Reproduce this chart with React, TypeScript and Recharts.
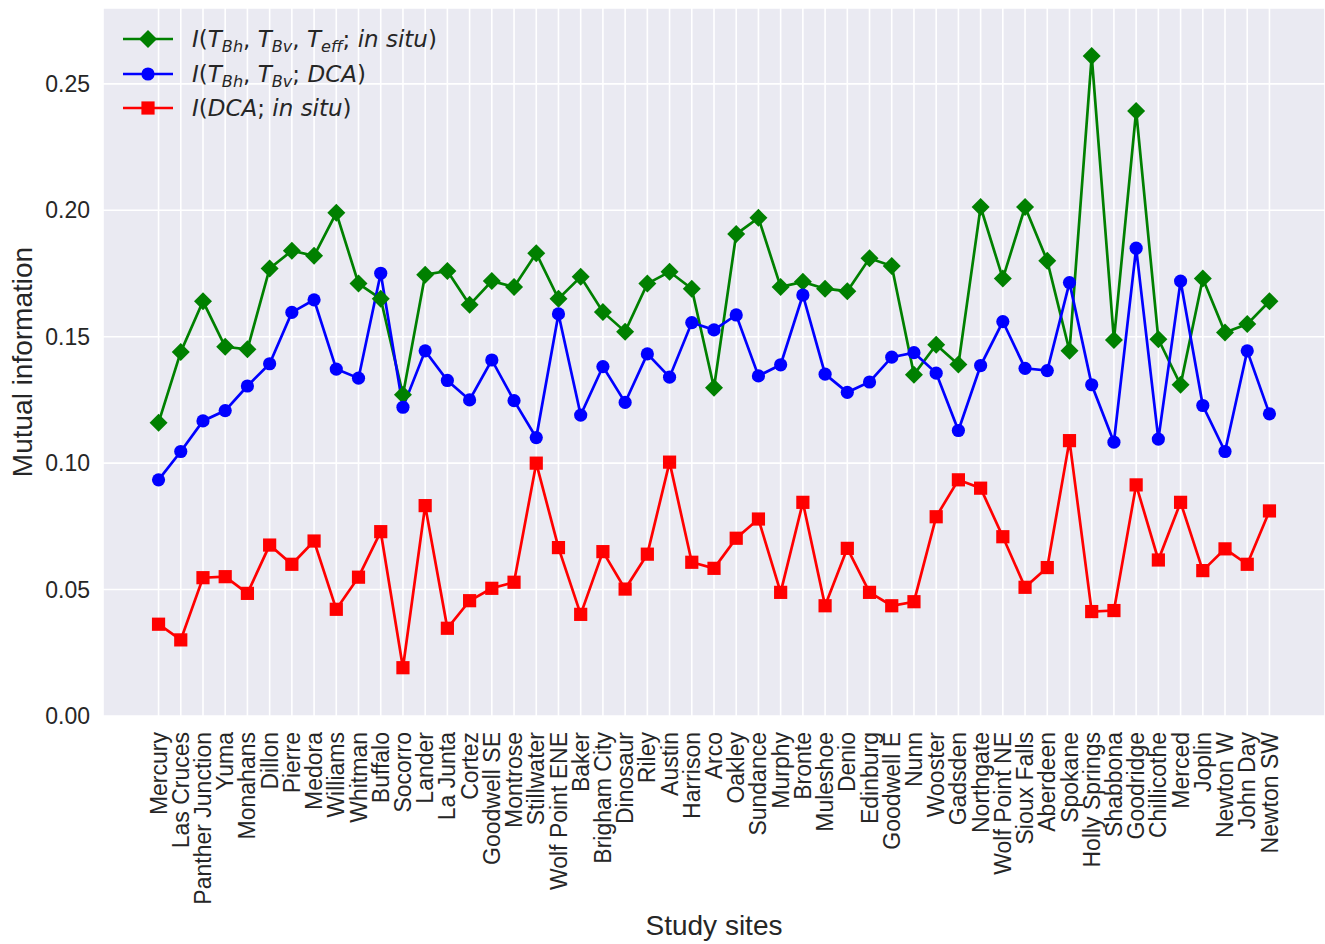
import React from "react";
import {
  LineChart,
  Line,
  XAxis,
  YAxis,
  CartesianGrid,
  Legend,
} from "recharts";

const sites = [
  "Mercury", "Las Cruces", "Panther Junction", "Yuma", "Monahans", "Dillon",
  "Pierre", "Medora", "Williams", "Whitman", "Buffalo", "Socorro", "Lander",
  "La Junta", "Cortez", "Goodwell SE", "Montrose", "Stillwater",
  "Wolf Point ENE", "Baker", "Brigham City", "Dinosaur", "Riley", "Austin",
  "Harrison", "Arco", "Oakley", "Sundance", "Murphy", "Bronte", "Muleshoe",
  "Denio", "Edinburg", "Goodwell E", "Nunn", "Wooster", "Gadsden",
  "Northgate", "Wolf Point NE", "Sioux Falls", "Aberdeen", "Spokane",
  "Holly Springs", "Shabbona", "Goodridge", "Chillicothe", "Merced", "Joplin",
  "Newton W", "John Day", "Newton SW",
];

// I(T_Bh, T_Bv, T_eff; in situ)
const greenVals = [
  0.116, 0.144, 0.164, 0.146, 0.145, 0.177, 0.184, 0.182, 0.199, 0.171,
  0.165, 0.127, 0.1745, 0.176, 0.1626, 0.172, 0.1697, 0.183, 0.165, 0.1737,
  0.1598, 0.152, 0.171, 0.1757, 0.169, 0.1298, 0.1906, 0.197, 0.1697, 0.1717,
  0.169, 0.168, 0.181, 0.178, 0.135, 0.1468, 0.139, 0.2013, 0.173, 0.2013,
  0.18, 0.1444, 0.261, 0.1487, 0.2393, 0.149, 0.131, 0.173, 0.1517, 0.155,
  0.164,
];

// I(T_Bh, T_Bv; DCA)
const blueVals = [
  0.0934, 0.1046, 0.1167, 0.1208, 0.1305, 0.1393, 0.1596, 0.1646, 0.1372,
  0.1336, 0.1751, 0.1221, 0.1444, 0.1327, 0.125, 0.1408, 0.1247, 0.1101,
  0.159, 0.119, 0.1382, 0.124, 0.1432, 0.134, 0.1556, 0.1527, 0.1586, 0.1345,
  0.1389, 0.1665, 0.1352, 0.128, 0.1321, 0.1419, 0.1437, 0.1356, 0.1129,
  0.1386, 0.156, 0.1375, 0.1366, 0.1714, 0.131, 0.1083, 0.185, 0.1095, 0.172,
  0.1228, 0.1046, 0.1444, 0.1195,
];

// I(DCA; in situ)
const redVals = [
  0.0363, 0.0301, 0.0547, 0.0551, 0.0485, 0.0676, 0.06, 0.0692, 0.0422,
  0.0549, 0.0729, 0.0191, 0.0832, 0.0347, 0.0456, 0.0505, 0.0529, 0.1,
  0.0666, 0.0402, 0.065, 0.0502, 0.064, 0.1004, 0.0608, 0.0584, 0.0703,
  0.0779, 0.0489, 0.0845, 0.0436, 0.0663, 0.0489, 0.0436, 0.0452, 0.0788,
  0.0934, 0.0901, 0.0709, 0.0509, 0.0587, 0.1089, 0.0413, 0.0417, 0.0914,
  0.0617, 0.0845, 0.0575, 0.0661, 0.06, 0.0811,
];

const yTicks = [0, 0.05, 0.1, 0.15, 0.2, 0.25];
const xTicks = sites.map((_, i) => i);

const data = sites.map((site, i) => ({
  idx: i,
  site,
  g: greenVals[i],
  b: blueVals[i],
  r: redVals[i],
}));

const GREEN = "#008000";
const BLUE = "#0000ff";
const RED = "#ff0000";
const TEXT = "#262626";
const FONT = "'Liberation Sans', Arial, sans-serif";
const MATHFONT = "'DejaVu Sans', sans-serif";
const LW = 2.7;

const Diamond = ({ cx, cy, s = 9, fill }: any) => (
  <polygon
    points={`${cx},${cy - s} ${cx + s},${cy} ${cx},${cy + s} ${cx - s},${cy}`}
    fill={fill}
  />
);

const renderDiamond = (p: any) => (
  <Diamond key={`g-${p.index}`} cx={p.cx} cy={p.cy} fill={GREEN} />
);
const renderCircle = (p: any) => (
  <circle key={`b-${p.index}`} cx={p.cx} cy={p.cy} r={6.6} fill={BLUE} />
);
const renderSquare = (p: any) => (
  <rect
    key={`r-${p.index}`}
    x={p.cx - 6.6}
    y={p.cy - 6.6}
    width={13.2}
    height={13.2}
    fill={RED}
  />
);

const XTick = (props: any) => {
  const { x, y, payload } = props;
  return (
    <text
      x={x}
      y={y}
      transform={`rotate(-90, ${x}, ${y})`}
      textAnchor="end"
      dy="0.35em"
      fontSize={23}
      fill={TEXT}
      fontFamily={FONT}
    >
      {sites[payload.value]}
    </text>
  );
};

const It = ({ children }: any) => (
  <span style={{ fontStyle: "italic" }}>{children}</span>
);
const Sub = ({ children }: any) => (
  <span
    style={{
      fontStyle: "italic",
      fontSize: "0.7em",
      position: "relative",
      top: "0.3em",
    }}
  >
    {children}
  </span>
);

const legendItems = [
  {
    color: GREEN,
    marker: "diamond",
    label: (
      <>
        <It>I</It>(<It>T</It>
        <Sub>Bh</Sub>, <It>T</It>
        <Sub>Bv</Sub>, <It>T</It>
        <Sub>eff</Sub>; <It>in situ</It>)
      </>
    ),
  },
  {
    color: BLUE,
    marker: "circle",
    label: (
      <>
        <It>I</It>(<It>T</It>
        <Sub>Bh</Sub>, <It>T</It>
        <Sub>Bv</Sub>; <It>DCA</It>)
      </>
    ),
  },
  {
    color: RED,
    marker: "square",
    label: (
      <>
        <It>I</It>(<It>DCA</It>; <It>in situ</It>)
      </>
    ),
  },
];

const LegendContent = () => (
  <div style={{ fontFamily: MATHFONT, color: TEXT, fontSize: 23 }}>
    {legendItems.map((it, i) => (
      <div
        key={i}
        style={{ display: "flex", alignItems: "center", height: 34.5 }}
      >
        <svg width={50} height={20} style={{ display: "block" }}>
          <line x1={0} y1={10} x2={50} y2={10} stroke={it.color} strokeWidth={LW} />
          {it.marker === "diamond" && <Diamond cx={25} cy={10} fill={it.color} />}
          {it.marker === "circle" && <circle cx={25} cy={10} r={6.6} fill={it.color} />}
          {it.marker === "square" && (
            <rect x={18.4} y={3.4} width={13.2} height={13.2} fill={it.color} />
          )}
        </svg>
        <span style={{ marginLeft: 19, whiteSpace: "nowrap" }}>{it.label}</span>
      </div>
    ))}
  </div>
);

const YLabel = (props: any) => {
  const vb = props.viewBox;
  const x = vb.x + 22;
  const y = vb.y + vb.height / 2;
  return (
    <text
      x={x}
      y={y}
      transform={`rotate(-90, ${x}, ${y})`}
      textAnchor="middle"
      dy="0.36em"
      fontSize={28}
      fill={TEXT}
      fontFamily={FONT}
    >
      Mutual information
    </text>
  );
};

const XLabel = (props: any) => {
  const vb = props.viewBox;
  return (
    <text
      x={vb.x + vb.width / 2}
      y={vb.y + vb.height - 9}
      textAnchor="middle"
      fontSize={28}
      fill={TEXT}
      fontFamily={FONT}
    >
      Study sites
    </text>
  );
};

export default function App() {
  return (
    <div style={{ position: "absolute", left: 0, top: 0, background: "#fff" }}>
      <LineChart
        width={1325}
        height={944}
        data={data}
        margin={{ top: 8, right: 0, left: 0, bottom: 0 }}
      >
        <CartesianGrid fill="#EAEAF2" stroke="#ffffff" strokeWidth={1.6} />
        <XAxis
          type="number"
          dataKey="idx"
          domain={[-2.5, 52.5]}
          ticks={xTicks}
          interval={0}
          height={228}
          tick={<XTick />}
          tickLine={false}
          axisLine={false}
          tickSize={0}
          tickMargin={16}
          label={<XLabel />}
        />
        <YAxis
          type="number"
          domain={[0, 0.28]}
          ticks={yTicks}
          width={103}
          tickFormatter={(v: number) => v.toFixed(2)}
          tick={{ fontSize: 23, fill: TEXT, fontFamily: FONT }}
          tickLine={false}
          axisLine={false}
          tickSize={0}
          tickMargin={13}
          label={<YLabel />}
        />
        <Legend
          layout="vertical"
          align="center"
          verticalAlign="middle"
          content={<LegendContent />}
          wrapperStyle={{ top: 22, left: 123, width: "auto" }}
        />
        <Line
          type="linear"
          dataKey="g"
          stroke={GREEN}
          strokeWidth={LW}
          dot={renderDiamond}
          isAnimationActive={false}
        />
        <Line
          type="linear"
          dataKey="b"
          stroke={BLUE}
          strokeWidth={LW}
          dot={renderCircle}
          isAnimationActive={false}
        />
        <Line
          type="linear"
          dataKey="r"
          stroke={RED}
          strokeWidth={LW}
          dot={renderSquare}
          isAnimationActive={false}
        />
      </LineChart>
    </div>
  );
}
